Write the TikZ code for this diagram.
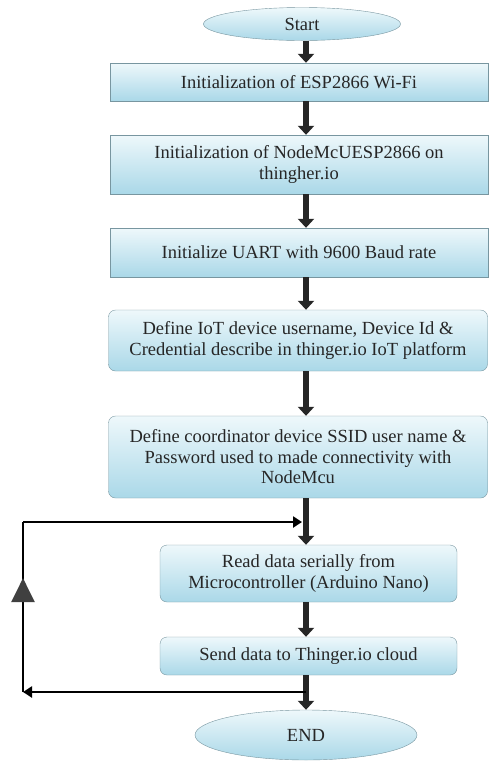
\documentclass[tikz,border=0pt]{standalone}
\usepackage{fontspec}
\setmainfont{Liberation Serif}
\usetikzlibrary{arrows.meta,shapes.geometric,decorations.markings}
\definecolor{boxtop}{RGB}{238,248,251}
\definecolor{boxbot}{RGB}{170,216,232}
\definecolor{boxline}{RGB}{120,150,160}
\tikzset{
  stepbox/.style={draw=boxline, thin, top color=boxtop, bottom color=boxbot,
    text=black!85, font=\fontsize{18.5}{20.5}\selectfont, align=center,
    inner sep=0pt},
  roundbox/.style={stepbox, rounded corners=7pt},
  ends/.style={stepbox, ellipse},
  flow/.style={-{Triangle[length=9pt,width=16pt]}, line width=6pt, black!85},
  loop/.style={line width=2.6pt, black}
}
\begin{document}
\begin{tikzpicture}[x=1pt,y=1pt]
\useasboundingbox (0,0) rectangle (488,-761);

\coordinate (ax) at (306,0);

\node[ends, minimum width=197, minimum height=33] (start) at (302,-24) {Start};
\node[stepbox, minimum width=378, minimum height=38] (init) at (299,-82) {Initialization of ESP2866 Wi-Fi};
\node[stepbox, minimum width=378, minimum height=59] (nodemcu) at (299,-164.5) {Initialization of NodeMcUESP2866 on\\thingher.io};
\node[stepbox, minimum width=378, minimum height=49] (uart) at (299,-252.5) {Initialize UART with 9600 Baud rate};
\node[roundbox, minimum width=379, minimum height=61] (define) at (298,-340.5) {Define IoT device username, Device Id \&\\Credential describe in thinger.io IoT platform};
\node[roundbox, minimum width=379, minimum height=82] (coord) at (298,-457) {Define coordinator device SSID user name \&\\Password used to made connectivity with\\NodeMcu};
\node[roundbox, minimum width=297, minimum height=57] (read) at (308.5,-573.5) {Read data serially from\\Microcontroller (Arduino Nano)};
\node[roundbox, minimum width=297, minimum height=38] (send) at (308.5,-656) {Send data to Thinger.io cloud};
\node[ends, minimum width=222, minimum height=50] (stop) at (306,-735) {END};

% main flow
\draw[flow] (start.south -| ax) -- (init.north -| ax);
\draw[flow] (init.south -| ax) -- (nodemcu.north -| ax);
\draw[flow] (nodemcu.south -| ax) -- (uart.north -| ax);
\draw[flow] (uart.south -| ax) -- (define.north -| ax);
\draw[flow] (define.south -| ax) -- (coord.north -| ax);
\draw[flow] (coord.south -| ax) -- (read.north -| ax);
\draw[flow] (read.south -| ax) -- (send.north -| ax);
\draw[flow] (send.south -| ax) -- (stop.north -| ax);

% loop back
\coordinate (join) at (302,-522);
\coordinate (split) at (306,-692);
\coordinate (lt) at (23,-522);
\coordinate (lb) at (23,-692);
\draw[loop, -{Triangle[length=9pt,width=11pt]}] (split) -- (lb);
\draw[loop, postaction={decorate}, decoration={markings,
    mark=at position 0.67 with {\arrow[black!75]{Triangle[length=24pt,width=23pt]}}}]
  (lb) -- (lt);
\draw[loop, -{Triangle[length=9pt,width=11pt]}] (lt) -- (join);
\end{tikzpicture}
\end{document}
